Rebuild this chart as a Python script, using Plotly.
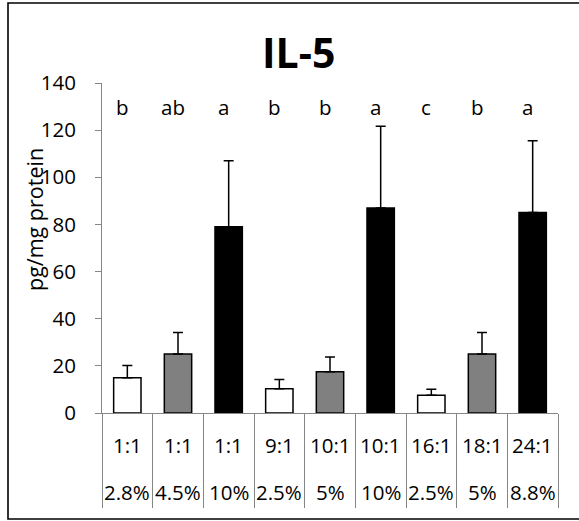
import plotly.graph_objects as go

ratios = ["1:1", "1:1", "1:1", "9:1", "10:1", "10:1", "16:1", "18:1", "24:1"]
percents = ["2.8%", "4.5%", "10%", "2.5%", "5%", "10%", "2.5%", "5%", "8.8%"]
means = [15.0, 25.0, 79.0, 10.3, 17.5, 87.0, 7.5, 25.0, 85.1]
errors = [5.2, 9.1, 28.0, 3.9, 6.3, 34.7, 2.6, 9.1, 30.4]
letters = ["b", "ab", "a", "b", "b", "a", "c", "b", "a"]
letter_y = 129.7
bar_colors = ["#FFFFFF", "#808080", "#000000"] * 3
y_ticks = [0, 20, 40, 60, 80, 100, 120, 140]

FONT = "Open Sans"
TXT = 20.5
W, H = 579, 521
ML, MR, MT, MB = 102, 21, 83, 108
PW, PH = W - ML - MR, H - MT - MB

def px_x(px):
    return (px - ML) / PW

def px_y(py):
    return (H - MB - py) / PH

xs = list(range(len(means)))

fig = go.Figure()
fig.add_trace(go.Bar(
    x=xs, y=means, width=0.54,
    marker=dict(color=bar_colors, line=dict(color="#000000", width=1.5)),
    error_y=dict(type="data", array=errors, arrayminus=[0] * len(errors),
                 symmetric=False, color="#000000", thickness=1.5, width=5),
    showlegend=False,
))

annotations = []
for i, t in enumerate(letters):
    annotations.append(dict(x=i, y=letter_y, xref="x", yref="y", text=t,
                            showarrow=False, xshift=-5,
                            font=dict(family=FONT, size=TXT, color="#000000")))
for i, t in enumerate(ratios):
    annotations.append(dict(x=i, y=px_y(445), xref="x", yref="paper", text=t,
                            showarrow=False, yanchor="middle",
                            font=dict(family=FONT, size=TXT, color="#000000")))
for i, t in enumerate(percents):
    annotations.append(dict(x=i, y=px_y(491.5), xref="x", yref="paper", text=t,
                            showarrow=False, yanchor="middle",
                            font=dict(family=FONT, size=TXT, color="#000000")))
annotations.append(dict(x=px_x(298), y=px_y(52), xref="paper", yref="paper",
                        text="<b>IL-5</b>", showarrow=False, xanchor="center",
                        yanchor="middle",
                        font=dict(family=FONT, size=41, color="#000000")))
annotations.append(dict(x=px_x(34), y=px_y(220), xref="paper", yref="paper",
                        text="pg/mg protein", textangle=-90, showarrow=False,
                        xanchor="center", yanchor="middle",
                        font=dict(family=FONT, size=21.5, color="#000000")))

fig.update_layout(
    width=W, height=H,
    margin=dict(l=ML, r=MR, t=MT, b=MB, pad=0),
    paper_bgcolor="#FFFFFF", plot_bgcolor="#FFFFFF",
    annotations=annotations,
    shapes=[dict(type="rect", xref="paper", yref="paper",
                 x0=px_x(8), x1=px_x(590), y0=px_y(519), y1=px_y(3),
                 line=dict(color="#000000", width=1.6), fillcolor="rgba(0,0,0,0)")],
    xaxis=dict(range=[-0.5, 8.5], showgrid=False, zeroline=False,
               showline=True, linecolor="#868686", linewidth=1,
               tickmode="array", tickvals=[i - 0.5 for i in range(len(means) + 1)],
               ticks="outside", ticklen=94, tickcolor="#868686", tickwidth=1,
               showticklabels=False),
    yaxis=dict(range=[0, 140], showgrid=False, zeroline=False,
               showline=True, linecolor="#868686", linewidth=1,
               tickmode="array", tickvals=y_ticks,
               ticks="outside", ticklen=6, tickcolor="#868686", tickwidth=1,
               ticklabelstandoff=15,
               tickfont=dict(family=FONT, size=TXT, color="#000000")),
)

fig.write_html("out.html")
